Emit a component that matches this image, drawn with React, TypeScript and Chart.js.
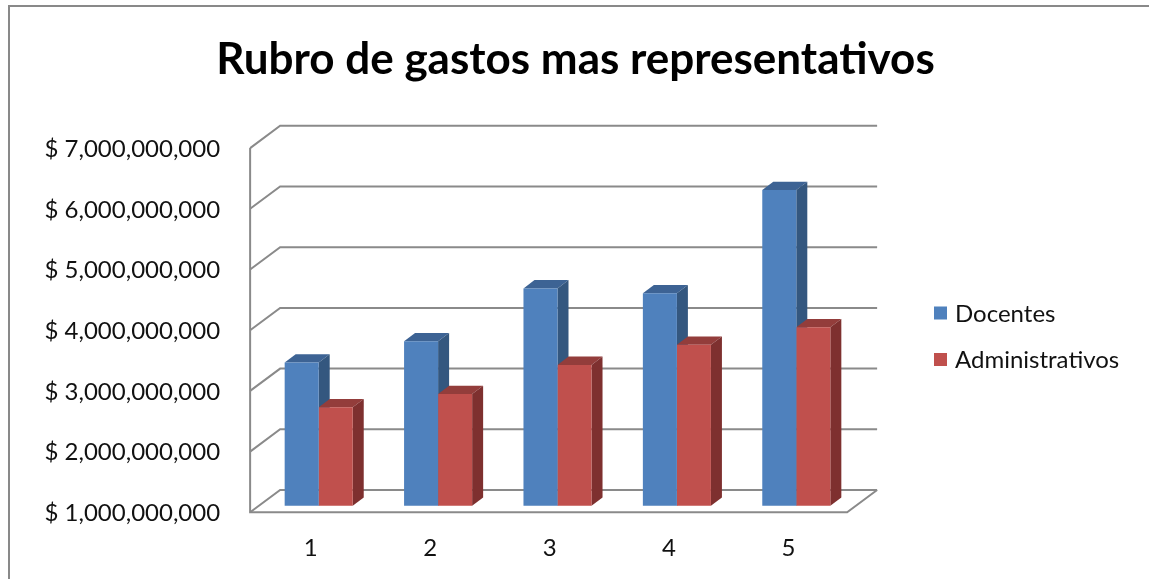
import React, { useEffect, useRef } from "react";
import { Chart, registerables } from "chart.js";

Chart.register(...registerables);

const categories = ["1", "2", "3", "4", "5"];
const docentes = [3.36e9, 3.71e9, 4.58e9, 4.5e9, 6.2e9];
const administrativos = [2.62e9, 2.84e9, 3.32e9, 3.65e9, 3.94e9];
const yTickValues = [1e9, 2e9, 3e9, 4e9, 5e9, 6e9, 7e9];
const seriesNames = ["Docentes", "Administrativos"];
const titleText = "Rubro de gastos mas representativos";

const FRONT_COLORS = ["#4F81BD", "#C0504D"];
const TOP_COLORS = ["#3D6394", "#933D3B"];
const SIDE_COLORS = ["#34577F", "#7E302F"];

const DEPTH_X = 30;
const DEPTH_Y = 22.3;
const FRONT_FRAC = 0.296;
const BAR_DX = 11;
const BAR_DY = 8.3;
const GRID_COLOR = "#8a8a8a";
const FONT = "Lato, 'Open Sans', sans-serif";

const fmt = (v: number) => "$ " + v.toLocaleString("en-US");

const threeD = {
  id: "threeD",
  beforeDatasetsDraw(chart: any) {
    const { ctx, chartArea } = chart;
    const ys = chart.scales.y;
    const fx = -FRONT_FRAC * DEPTH_X;
    const fy = FRONT_FRAC * DEPTH_Y;
    const bx = (1 - FRONT_FRAC) * DEPTH_X;
    const by = -(1 - FRONT_FRAC) * DEPTH_Y;
    const L = chartArea.left;
    const R = chartArea.right;
    ctx.save();
    ctx.strokeStyle = GRID_COLOR;
    ctx.lineWidth = 2;
    ctx.lineCap = "butt";
    yTickValues.forEach((v) => {
      const yp = ys.getPixelForValue(v);
      ctx.beginPath();
      ctx.moveTo(L + fx, yp + fy);
      ctx.lineTo(L + bx, yp + by);
      ctx.lineTo(R + bx, yp + by);
      ctx.stroke();
    });
    const yTop = ys.getPixelForValue(yTickValues[yTickValues.length - 1]);
    const yBot = ys.getPixelForValue(yTickValues[0]);
    ctx.beginPath();
    ctx.moveTo(L + fx, yTop + fy);
    ctx.lineTo(L + fx, yBot + fy);
    ctx.lineTo(R + fx, yBot + fy);
    ctx.lineTo(R + bx, yBot + by);
    ctx.stroke();
    ctx.restore();

    ctx.save();
    const n = categories.length;
    for (let i = 0; i < n; i++) {
      for (let d = 0; d < chart.data.datasets.length; d++) {
        const meta = chart.getDatasetMeta(d);
        const el = meta.data[i];
        if (!el) continue;
        const p = el.getProps(["x", "y", "base", "width"], true);
        const x = p.x;
        const y = p.y;
        const width = p.width;
        const base = Math.min(p.base, yBot);
        const l = x - width / 2;
        const r = x + width / 2;
        ctx.fillStyle = TOP_COLORS[d];
        ctx.beginPath();
        ctx.moveTo(l, y);
        ctx.lineTo(r, y);
        ctx.lineTo(r + BAR_DX, y - BAR_DY);
        ctx.lineTo(l + BAR_DX, y - BAR_DY);
        ctx.closePath();
        ctx.fill();
        ctx.fillStyle = SIDE_COLORS[d];
        ctx.beginPath();
        ctx.moveTo(r, y);
        ctx.lineTo(r + BAR_DX, y - BAR_DY);
        ctx.lineTo(r + BAR_DX, base - BAR_DY);
        ctx.lineTo(r, base);
        ctx.closePath();
        ctx.fill();
      }
    }
    ctx.restore();
  },
  afterDraw(chart: any) {
    const { ctx, chartArea, width } = chart;
    const ys = chart.scales.y;
    const xs = chart.scales.x;
    const fx = -FRONT_FRAC * DEPTH_X;
    const fy = FRONT_FRAC * DEPTH_Y;
    ctx.save();
    ctx.strokeStyle = "#898989";
    ctx.lineWidth = 2;
    ctx.beginPath();
    ctx.moveTo(9, chart.height + 2);
    ctx.lineTo(9, 6);
    ctx.lineTo(width + 2, 6);
    ctx.stroke();

    ctx.fillStyle = "#000";
    ctx.font = `bold 44px ${FONT}`;
    ctx.textAlign = "center";
    ctx.textBaseline = "alphabetic";
    ctx.fillText(titleText, width / 2 + 1, 74);

    ctx.font = `24px ${FONT}`;
    ctx.textAlign = "right";
    ctx.textBaseline = "middle";
    ctx.fillStyle = "#111";
    yTickValues.forEach((v) => {
      const yp = ys.getPixelForValue(v) + fy;
      ctx.fillText(fmt(v), chartArea.left + fx - 30, yp + 1);
    });

    ctx.textAlign = "center";
    categories.forEach((c, i) => {
      const xp = xs.getPixelForValue(i) + fx + 1;
      ctx.fillText(c, xp, 548);
    });

    ctx.textAlign = "left";
    const legY = [313, 359.5];
    seriesNames.forEach((s, i) => {
      ctx.fillStyle = FRONT_COLORS[i];
      ctx.fillRect(934, legY[i] - 6.5, 13, 13);
      ctx.fillStyle = "#111";
      ctx.fillText(s, 955, legY[i] + 1);
    });
    ctx.restore();
  },
};

export default function App() {
  const ref = useRef<HTMLCanvasElement | null>(null);
  useEffect(() => {
    if (!ref.current) return;
    const chart = new Chart(ref.current, {
      type: "bar",
      data: {
        labels: categories,
        datasets: [
          {
            label: seriesNames[0],
            data: docentes,
            backgroundColor: FRONT_COLORS[0],
            borderWidth: 0,
            barPercentage: 1,
            categoryPercentage: 0.57,
          },
          {
            label: seriesNames[1],
            data: administrativos,
            backgroundColor: FRONT_COLORS[1],
            borderWidth: 0,
            barPercentage: 1,
            categoryPercentage: 0.57,
          },
        ],
      },
      options: {
        responsive: false,
        animation: false,
        devicePixelRatio: 1,
        layout: {
          padding: { left: 259, top: 141.5, right: 293, bottom: 73.3 },
        },
        plugins: {
          legend: { display: false },
          title: { display: false },
          tooltip: { enabled: false },
        },
        scales: {
          x: { display: false },
          y: {
            display: false,
            min: yTickValues[0],
            max: yTickValues[yTickValues.length - 1],
            ticks: { stepSize: 1e9 },
          },
        },
      },
      plugins: [threeD],
    });
    return () => chart.destroy();
  }, []);
  return (
    <div style={{ position: "absolute", left: 0, top: 0, width: 1149, height: 579, background: "#fff" }}>
      <canvas ref={ref} width={1149} height={579} style={{ display: "block" }} />
    </div>
  );
}
